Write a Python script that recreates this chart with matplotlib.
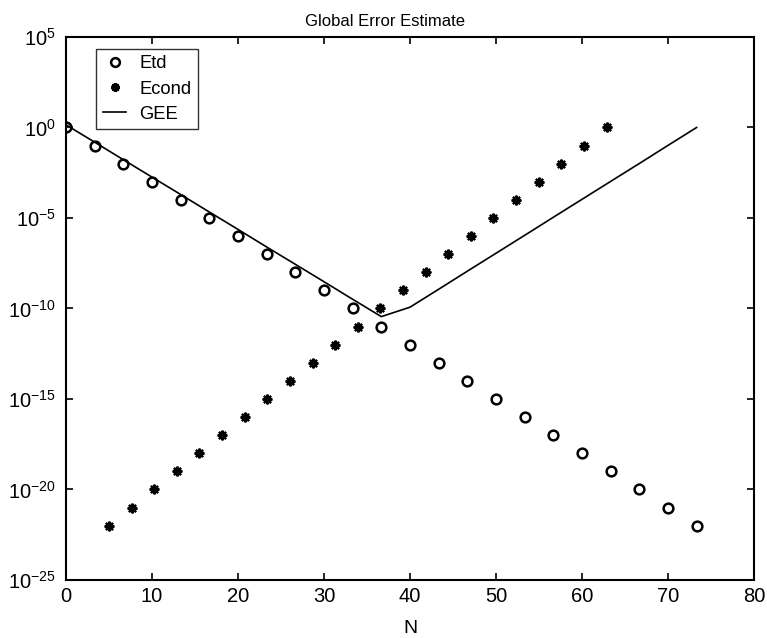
import matplotlib
matplotlib.use('Agg')
import matplotlib.pyplot as plt
import numpy as np

plt.rcParams['font.family'] = ['Liberation Sans', 'DejaVu Sans']
plt.rcParams['mathtext.fontset'] = 'custom'
plt.rcParams['mathtext.rm'] = 'Liberation Sans'
plt.rcParams['mathtext.default'] = 'regular'

# Etd: sampled every 10/3 in N
n_etd = [0.0, 3.33, 6.67, 10.0, 13.33, 16.67, 20.0, 23.33, 26.67, 30.0, 33.33, 36.67,
         40.0, 43.33, 46.67, 50.0, 53.33, 56.67, 60.0, 63.33, 66.67, 70.0, 73.33]
etd_exp = [0, -1, -2, -3, -4, -5, -6, -7, -8, -9, -10, -11,
           -12, -13, -14, -15, -16, -17, -18, -19, -20, -21, -22]

# Econd
n_econd = [5.0, 7.63, 10.26, 12.89, 15.52, 18.15, 20.78, 23.41, 26.04, 28.67, 31.3, 33.93,
           36.56, 39.19, 41.82, 44.45, 47.08, 49.71, 52.34, 54.97, 57.6, 60.23, 62.86]
econd_exp = [-22, -21, -20, -19, -18, -17, -16, -15, -14, -13, -12, -11,
             -10, -9, -8, -7, -6, -5, -4, -3, -2, -1, 0]

# GEE line (same N as Etd)
gee_exp = [0.15, -0.81, -1.78, -2.74, -3.70, -4.67, -5.63, -6.60, -7.56, -8.52, -9.49, -10.45,
           -9.93, -8.94, -7.94, -6.95, -5.96, -4.96, -3.97, -2.98, -1.99, -0.99, 0.0]

etd = 10.0 ** np.array(etd_exp, dtype=float)
econd = 10.0 ** np.array(econd_exp, dtype=float)
gee = 10.0 ** np.array(gee_exp, dtype=float)

fig = plt.figure(figsize=(7.67, 6.38), dpi=100)
ax = fig.add_axes([0.086, 0.091, 0.897, 0.851])

ax.semilogy(n_etd, etd, linestyle='none', marker='o', markersize=7, markerfacecolor='none',
            markeredgecolor='black', markeredgewidth=1.8, label='Etd')
ax.semilogy(n_econd, econd, linestyle='none', marker=(8, 2, 0), markersize=7,
            markeredgecolor='black', markeredgewidth=1.6, color='black', label='Econd')
ax.semilogy(n_etd, gee, color='black', linewidth=1.2, label='GEE')

ax.set_xlim(0, 80)
ax.set_ylim(1e-25, 1e5)
ax.set_xticks(np.arange(0, 81, 10))
yt = [1e-25, 1e-20, 1e-15, 1e-10, 1e-5, 1e0, 1e5]
ax.set_yticks(yt)
ax.set_yticklabels(['10$^{-25}$', '10$^{-20}$', '10$^{-15}$', '10$^{-10}$',
                    '10$^{-5}$', '10$^{0}$', '10$^{5}$'])
ax.minorticks_off()
ax.tick_params(direction='in', top=True, right=True, labelsize=14.5, length=5, width=1.2)
ax.tick_params(axis='y', pad=7)
ax.tick_params(axis='x', pad=5)
for s in ax.spines.values():
    s.set_linewidth(1.5)

ax.set_title('Global Error Estimate', fontsize=12, pad=8, x=0.464)
ax.set_xlabel('N', fontsize=14, labelpad=10)

leg = ax.legend(loc='upper left', bbox_to_anchor=(0.044, 0.978), borderaxespad=0,
                fontsize=13.2, frameon=True, fancybox=False, edgecolor='black',
                handlelength=1.3, borderpad=0.35, labelspacing=0.45, handletextpad=0.7,
                markerscale=0.9)
leg.get_frame().set_linewidth(1.0)

fig.savefig('out.png', dpi=100)
